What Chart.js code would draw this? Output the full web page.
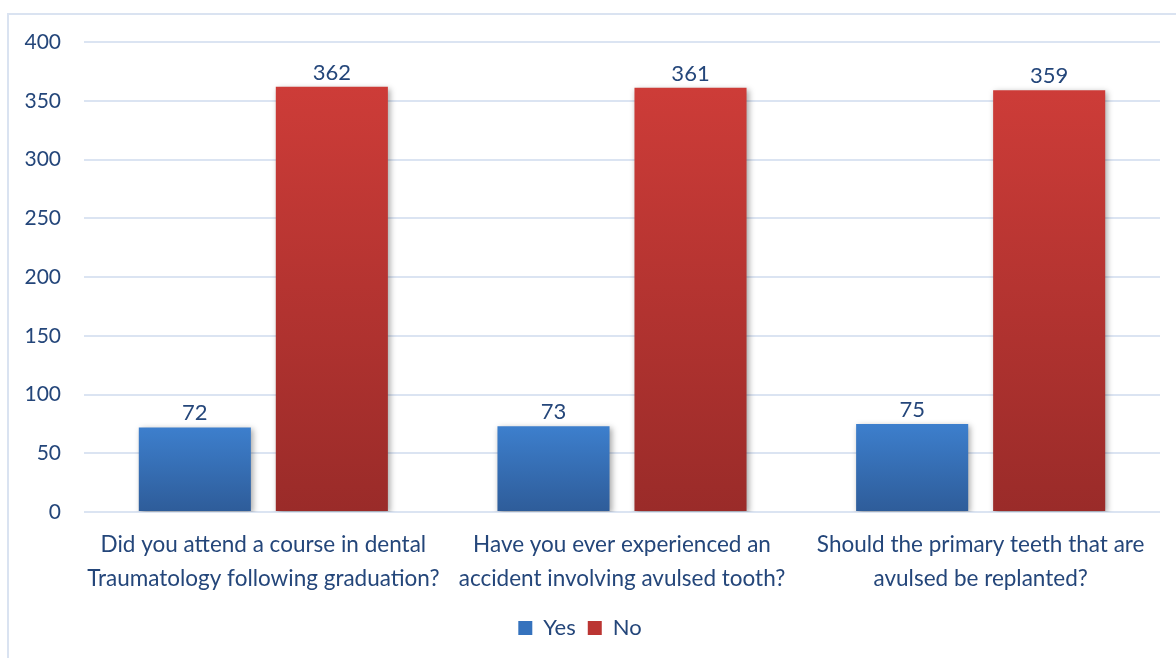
<!DOCTYPE html>
<html>
<head>
<meta charset="utf-8">
<script src="https://cdn.jsdelivr.net/npm/chart.js@4/dist/chart.umd.min.js"></script>
<style>
  html, body { margin: 0; padding: 0; background: #fff; overflow: hidden; }
  #wrap { position: relative; width: 1176px; height: 658px; }
  #frame { position: absolute; left: 7px; top: 13px; width: 1300px; height: 800px;
           border: 2px solid #dae3f1; box-sizing: border-box; }
  #chart { position: absolute; left: 0; top: 0; }
</style>
</head>
<body>
<div id="wrap">
  <div id="frame"></div>
  <canvas id="chart" width="1176" height="658"></canvas>
</div>
<script>
// questions on the x axis (wrapped onto two lines)
var questions = [
  ['Did you attend a course in dental', 'Traumatology following graduation?'],
  ['Have you ever experienced an', 'accident involving avulsed tooth?'],
  ['Should the primary teeth that are', 'avulsed be replanted?']
];
var yesCounts = [72, 73, 75];
var noCounts = [362, 361, 359];
var yTicks = [0, 50, 100, 150, 200, 250, 300, 350, 400];

var textColor = '#24467a';
var gridColor = '#dbe4f2';
var fontFace = 'Lato, "Open Sans", sans-serif';

// vertical gradient for each bar, from its top down to the base line
function barGradient(top, bottom, fallback) {
  return function(c) {
    var chart = c.chart;
    if (!chart.chartArea || c.type !== 'data') return fallback;
    var y = chart.scales.y;
    var y0 = y.getPixelForValue(0);
    var y1 = y.getPixelForValue(c.raw);
    var g = chart.ctx.createLinearGradient(0, y1, 0, y0);
    g.addColorStop(0, top);
    g.addColorStop(1, bottom);
    return g;
  };
}

// soft shadow behind bars
var barShadow = {
  id: 'barShadow',
  beforeDatasetsDraw: function(chart) {
    var ctx = chart.ctx;
    ctx.save();
    ctx.shadowColor = 'rgba(0,0,0,0.35)';
    ctx.shadowBlur = 6;
    ctx.shadowOffsetX = 2;
    ctx.shadowOffsetY = 2;
  },
  afterDatasetsDraw: function(chart) {
    chart.ctx.restore();
  }
};

// value above each bar
var valueLabels = {
  id: 'valueLabels',
  afterDraw: function(chart) {
    var ctx = chart.ctx;
    ctx.save();
    ctx.fillStyle = textColor;
    ctx.font = '22px ' + fontFace;
    ctx.textAlign = 'center';
    ctx.textBaseline = 'bottom';
    chart.data.datasets.forEach(function(ds, i) {
      chart.getDatasetMeta(i).data.forEach(function(bar, j) {
        ctx.fillText(String(ds.data[j]), bar.x, bar.y - 3);
      });
    });
    ctx.restore();
  }
};

new Chart(document.getElementById('chart'), {
  type: 'bar',
  data: {
    labels: questions,
    datasets: [
      {
        label: 'Yes',
        data: yesCounts,
        backgroundColor: barGradient('#3d7fcd', '#2e5c99', '#3a76bf'),
        categoryPercentage: 0.764,
        barPercentage: 0.818
      },
      {
        label: 'No',
        data: noCounts,
        backgroundColor: barGradient('#cd3c38', '#9a2b29', '#be3533'),
        categoryPercentage: 0.764,
        barPercentage: 0.818
      }
    ]
  },
  options: {
    responsive: false,
    animation: false,
    events: [],
    layout: { padding: { top: 42, right: 16, bottom: 9, left: 0 } },
    scales: {
      x: {
        grid: { display: false },
        border: { display: false },
        ticks: {
          color: textColor,
          font: { family: fontFace, size: 22.5, lineHeight: 1.51 },
          padding: 8,
          maxRotation: 0,
          autoSkip: false
        },
        afterFit: function(s) { s.height = 93; }
      },
      y: {
        min: 0,
        max: 400,
        afterBuildTicks: function(s) {
          s.ticks = yTicks.map(function(v) { return { value: v }; });
        },
        grid: { color: gridColor, lineWidth: 2, drawTicks: false },
        border: { display: false },
        ticks: {
          color: textColor,
          font: { family: fontFace, size: 21 },
          padding: 23
        },
        afterFit: function(s) { s.width = 84; }
      }
    },
    plugins: {
      tooltip: { enabled: false },
      legend: {
        position: 'bottom',
        labels: {
          color: textColor,
          font: { family: fontFace, size: 22 },
          boxWidth: 14,
          boxHeight: 14,
          padding: 12,
          generateLabels: function(chart) {
            var fills = ['#3572bd', '#bb3532'];
            return chart.data.datasets.map(function(ds, i) {
              return {
                text: ds.label,
                fillStyle: fills[i],
                strokeStyle: fills[i],
                lineWidth: 0,
                fontColor: textColor,
                datasetIndex: i
              };
            });
          }
        }
      }
    }
  },
  plugins: [barShadow, valueLabels]
});
</script>
</body>
</html>
